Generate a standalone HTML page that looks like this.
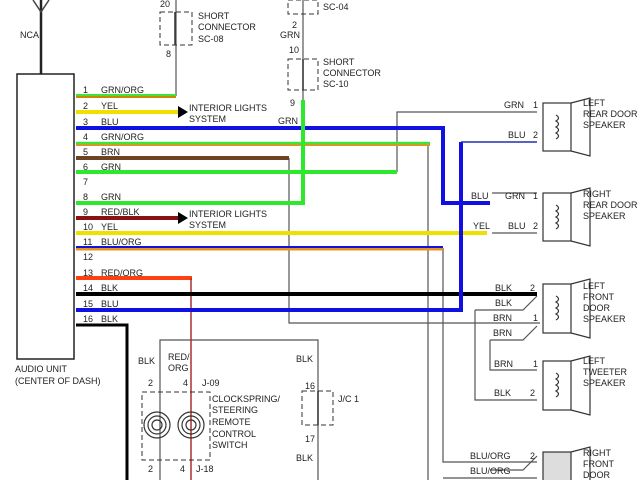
<!DOCTYPE html>
<html><head><meta charset="utf-8"><style>
html,body{margin:0;padding:0;background:#fff;}
svg{display:block;}
text{font-family:"Liberation Sans",sans-serif;font-size:9px;fill:#222;}
</style></head><body>
<svg width="640" height="480" viewBox="0 0 640 480" xmlns="http://www.w3.org/2000/svg">
<rect width="640" height="480" fill="#fff"/>
<line x1="41" y1="0" x2="41" y2="74" stroke="#222" stroke-width="2.5"/>
<path d="M33 0 L41 12 L49 0" stroke="#444" fill="none" stroke-width="1.5"/>
<text x="20" y="38">NCA</text>
<rect x="17" y="74" width="57" height="285" fill="#fff" stroke="#222" stroke-width="1.5"/>
<text x="15" y="372">AUDIO UNIT</text>
<text x="15" y="384">(CENTER OF DASH)</text>

<g stroke="#555" stroke-width="1.2" fill="none">
<path d="M176 96 V0"/>
<path d="M303 100 V0"/>
<path d="M289 158 V323 H540"/>
<path d="M397 172 V112 H537"/>
<path d="M428 143 V480"/>
<path d="M443 248 V462 H537"/>
<path d="M443 478 H537"/>
<path d="M160 480 V340 H318 V480"/>
<path d="M492 193 H537"/>
<path d="M492 233 H537"/>
<path d="M490 340 H523 L537 326"/>
<path d="M475 310 H523 L537 296"/>
<path d="M490 340 V370 H537"/>
<path d="M475 310 V400 H537"/>
<path d="M490 470 H523 L537 456"/>
</g>
<g fill="none">
<path d="M76 96 H176" stroke="#c88a00" stroke-width="4"/>
<path d="M76 95 H176" stroke="#3ce43c" stroke-width="2"/>
<path d="M76 112 H178" stroke="#f0e000" stroke-width="4"/>
<path d="M76 128 H443 V203 H490" stroke="#1010e0" stroke-width="4"/>
<path d="M76 144 H430" stroke="#e89020" stroke-width="4"/>
<path d="M76 143 H430" stroke="#3ce43c" stroke-width="2.5"/>
<path d="M76 158 H289" stroke="#6b4423" stroke-width="4"/>
<path d="M76 172 H397" stroke="#2ee82e" stroke-width="4"/>
<path d="M76 203 H303 V100" stroke="#2ee82e" stroke-width="4"/>
<path d="M76 218 H178" stroke="#8b1010" stroke-width="4"/>
<path d="M76 233 H487" stroke="#f0e000" stroke-width="4"/>
<path d="M76 249 H443" stroke="#e89020" stroke-width="3"/>
<path d="M76 247 H443" stroke="#1010e0" stroke-width="2"/>
<path d="M76 278 H192" stroke="#ff4010" stroke-width="4"/>
<path d="M191 278 V480" stroke="#a83030" stroke-width="1.5"/>
<path d="M76 294 H537" stroke="#000" stroke-width="4"/>
<path d="M76 310 H461 V142" stroke="#1010e0" stroke-width="4"/>
<path d="M461 142 H537" stroke="#2030b0" stroke-width="1.5"/>
<path d="M76 325 H127 V480" stroke="#000" stroke-width="3"/>
</g>
<polygon points="178,106 188,112 178,118" fill="#000"/>
<polygon points="178,212 188,218 178,224" fill="#000"/>

<g>
<text x="83" y="93">1</text><text x="101" y="93">GRN/ORG</text>
<text x="83" y="109">2</text><text x="101" y="109">YEL</text>
<text x="83" y="125">3</text><text x="101" y="125">BLU</text>
<text x="83" y="140">4</text><text x="101" y="140">GRN/ORG</text>
<text x="83" y="155">5</text><text x="101" y="155">BRN</text>
<text x="83" y="170">6</text><text x="101" y="170">GRN</text>
<text x="83" y="185">7</text>
<text x="83" y="200">8</text><text x="101" y="200">GRN</text>
<text x="83" y="215">9</text><text x="101" y="215">RED/BLK</text>
<text x="83" y="230">10</text><text x="101" y="230">YEL</text>
<text x="83" y="245">11</text><text x="101" y="245">BLU/ORG</text>
<text x="83" y="260">12</text>
<text x="83" y="276">13</text><text x="101" y="276">RED/ORG</text>
<text x="83" y="291">14</text><text x="101" y="291">BLK</text>
<text x="83" y="307">15</text><text x="101" y="307">BLU</text>
<text x="83" y="322">16</text><text x="101" y="322">BLK</text>
<text x="189" y="111">INTERIOR LIGHTS</text><text x="189" y="122">SYSTEM</text>
<text x="189" y="217">INTERIOR LIGHTS</text><text x="189" y="228">SYSTEM</text>
</g>
<g stroke="#333" stroke-width="1" fill="none" stroke-dasharray="5,3">
<rect x="160" y="12" width="32" height="33"/>
<rect x="288" y="0" width="30" height="14"/>
<rect x="288" y="59" width="30" height="31"/>
<rect x="142" y="392" width="68" height="68"/>
<rect x="302" y="391" width="31" height="34"/>
</g>
<g stroke="#333" stroke-width="1.5">
<line x1="175" y1="12" x2="175" y2="45"/><line x1="303" y1="59" x2="303" y2="90"/>
<line x1="318" y1="391" x2="318" y2="425"/>
</g>
<text x="160" y="7">20</text><text x="166" y="57">8</text>
<text x="198" y="19">SHORT</text><text x="198" y="30">CONNECTOR</text><text x="198" y="42">SC-08</text>
<text x="323" y="10">SC-04</text>
<text x="292" y="28">2</text><text x="280" y="38">GRN</text><text x="289" y="53">10</text>
<text x="323" y="65">SHORT</text><text x="323" y="76">CONNECTOR</text><text x="323" y="87">SC-10</text>
<text x="290" y="106">9</text><text x="278" y="124">GRN</text>
<g stroke="#333" fill="none" stroke-width="1.2">
<circle cx="157" cy="425" r="13"/><circle cx="157" cy="425" r="9"/><circle cx="157" cy="425" r="5"/>
<circle cx="191" cy="425" r="13"/><circle cx="191" cy="425" r="9"/><circle cx="191" cy="425" r="5"/>
</g>
<text x="138" y="364">BLK</text><text x="168" y="360">RED/</text><text x="168" y="371">ORG</text>
<text x="148" y="386">2</text><text x="183" y="386">4</text><text x="202" y="386">J-09</text>
<text x="212" y="402">CLOCKSPRING/</text><text x="212" y="413">STEERING</text><text x="212" y="425">REMOTE</text><text x="212" y="437">CONTROL</text><text x="212" y="448">SWITCH</text>
<text x="148" y="472">2</text><text x="180" y="472">4</text><text x="196" y="472">J-18</text>
<text x="296" y="362">BLK</text><text x="305" y="389">16</text><text x="338" y="402">J/C 1</text>
<text x="305" y="442">17</text><text x="296" y="461">BLK</text>
<g stroke="#333" fill="none" stroke-width="1.2">
<rect x="543" y="103" width="28" height="48"/><path d="M571 103 L590 98 V156 L571 151"/>
<rect x="543" y="193" width="28" height="48"/><path d="M571 193 L590 188 V246 L571 241"/>
<rect x="543" y="284" width="28" height="49"/><path d="M571 284 L590 279 V338 L571 333"/>
<rect x="543" y="361" width="28" height="49"/><path d="M571 361 L590 356 V415 L571 410"/>
<rect x="543" y="452" width="28" height="40" fill="#ddd"/><path d="M571 452 L590 447 V480"/>
<path d="M556 115 q5 3 0 6 q5 3 0 6 q5 3 0 6 q5 3 0 6"/>
<path d="M556 205 q5 3 0 6 q5 3 0 6 q5 3 0 6 q5 3 0 6"/>
<path d="M556 296 q5 3 0 6 q5 3 0 6 q5 3 0 6 q5 3 0 6"/>
<path d="M556 373 q5 3 0 6 q5 3 0 6 q5 3 0 6 q5 3 0 6"/>
</g>
<text x="504" y="108">GRN</text><text x="533" y="108">1</text>
<text x="508" y="138">BLU</text><text x="533" y="138">2</text>
<text x="471" y="199">BLU</text><text x="505" y="199">GRN</text><text x="533" y="199">1</text>
<text x="473" y="229">YEL</text><text x="508" y="229">BLU</text><text x="533" y="229">2</text>
<text x="495" y="291">BLK</text><text x="530" y="291">2</text>
<text x="495" y="306">BLK</text>
<text x="493" y="321">BRN</text><text x="533" y="321">1</text>
<text x="493" y="336">BRN</text>
<text x="494" y="367">BRN</text><text x="533" y="367">1</text>
<text x="494" y="396">BLK</text><text x="530" y="396">2</text>
<text x="470" y="459">BLU/ORG</text><text x="530" y="459">2</text>
<text x="470" y="474">BLU/ORG</text>
<text x="583" y="106">LEFT</text><text x="583" y="117">REAR DOOR</text><text x="583" y="128">SPEAKER</text>
<text x="583" y="197">RIGHT</text><text x="583" y="208">REAR DOOR</text><text x="583" y="219">SPEAKER</text>
<text x="583" y="289">LEFT</text><text x="583" y="300">FRONT</text><text x="583" y="311">DOOR</text><text x="583" y="322">SPEAKER</text>
<text x="583" y="364">LEFT</text><text x="583" y="375">TWEETER</text><text x="583" y="386">SPEAKER</text>
<text x="583" y="456">RIGHT</text><text x="583" y="467">FRONT</text><text x="583" y="478">DOOR</text>
</svg>
</body></html>
